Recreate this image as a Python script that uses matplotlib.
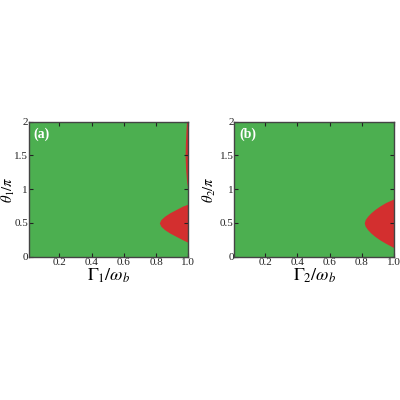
import numpy as np
import matplotlib
matplotlib.use("Agg")
import matplotlib.pyplot as plt

plt.rcParams['font.family'] = ['Liberation Serif', 'DejaVu Serif']
plt.rcParams['mathtext.fontset'] = 'stix'

green = '#4CAF50'
red = '#D32F2F'

# boundary of the red (unstable) region
theta_a = [0.21, 0.25, 0.30, 0.35, 0.40, 0.45, 0.50, 0.55, 0.60, 0.65, 0.70, 0.75, 0.78]
gamma_a = [1.00, 0.965, 0.925, 0.885, 0.853, 0.830, 0.820, 0.830, 0.853, 0.885, 0.925, 0.965, 1.00]

strip_theta = [0.98, 1.10, 1.30, 1.50, 1.70, 1.90, 2.00]
strip_gamma = [1.00, 0.990, 0.983, 0.980, 0.982, 0.986, 0.989]

theta_b = [0.13, 0.20, 0.25, 0.30, 0.35, 0.40, 0.45, 0.50, 0.55, 0.60, 0.65, 0.70, 0.75, 0.80, 0.86]
gamma_b = [1.00, 0.945, 0.910, 0.880, 0.855, 0.835, 0.820, 0.814, 0.820, 0.835, 0.855, 0.880, 0.910, 0.945, 1.00]

xticks = [0.2, 0.4, 0.6, 0.8, 1.0]
xticklabels = ['0.2', '0.4', '0.6', '0.8', '1.0']
yticks = [0, 0.5, 1, 1.5, 2]
yticklabels = ['0', '0.5', '1', '1.5', '2']

fig = plt.figure(figsize=(4, 4), dpi=100)
ax1 = fig.add_axes([0.0720, 0.3583, 0.3988, 0.3375])
ax2 = fig.add_axes([0.5858, 0.3583, 0.4000, 0.3375])

ax1.fill_betweenx(theta_a, gamma_a, 1.0, color=red, lw=0)
ax1.fill_betweenx(strip_theta, strip_gamma, 1.0, color=red, lw=0)
ax2.fill_betweenx(theta_b, gamma_b, 1.0, color=red, lw=0)

for ax, lab, idx, ylx in [(ax1, '(a)', 1, -0.072), (ax2, '(b)', 2, -0.105)]:
    ax.set_facecolor(green)
    ax.set_xlim(0.01, 1.0)
    ax.set_ylim(0, 2)
    ax.set_xticks(xticks)
    ax.set_xticklabels(xticklabels)
    ax.set_yticks(yticks)
    ax.set_yticklabels(yticklabels)
    ax.tick_params(direction='in', top=True, right=True, length=3, width=0.8,
                   labelsize=8, pad=1, colors='#222222')
    ax.tick_params(axis='y', pad=0.5)
    for s in ax.spines.values():
        s.set_color('#444444')
        s.set_linewidth(1.0)
    ax.set_xlabel(r'$\Gamma_%d/\omega_b$' % idx, fontsize=13, labelpad=0)
    ax.set_ylabel(r'$\theta_%d/\pi$' % idx, fontsize=10.5)
    ax.yaxis.set_label_coords(ylx, 0.5)
    ax.text(0.03, 0.96, lab, transform=ax.transAxes, color='white',
            fontsize=10, fontweight='bold', va='top', ha='left')

fig.savefig('out.png', dpi=100)
